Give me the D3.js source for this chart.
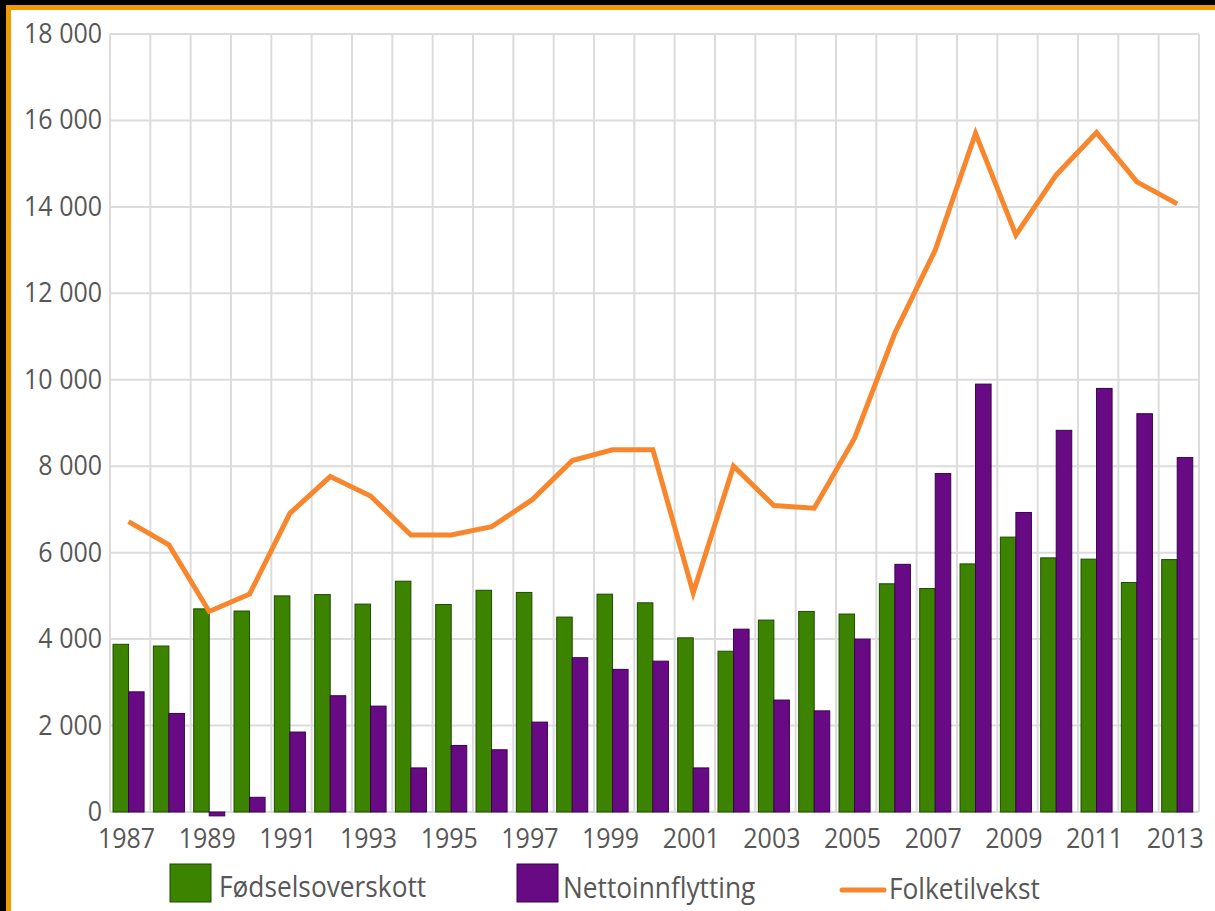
<!DOCTYPE html>
<html><head><meta charset="utf-8">
<script src="https://cdn.jsdelivr.net/npm/d3@7"></script>
<style>html,body{margin:0;padding:0;background:#000;}svg{display:block;}</style>
</head><body>
<svg id="c" width="1215" height="911"></svg>
<script>
const years = [1987,1988,1989,1990,1991,1992,1993,1994,1995,1996,1997,1998,1999,2000,2001,2002,2003,2004,2005,2006,2007,2008,2009,2010,2011,2012,2013];
const fodselsoverskott = [3880,3840,4700,4650,5000,5030,4810,5340,4800,5130,5080,4510,5040,4840,4030,3720,4440,4640,4580,5280,5170,5740,6360,5880,5850,5310,5840];
const nettoinnflytting = [2780,2280,-90,340,1850,2690,2450,1020,1540,1440,2080,3570,3300,3490,1020,4230,2590,2340,4000,5730,7830,9900,6930,8830,9800,9215,8200];
const folketilvekst = [6720,6180,4640,5040,6910,7760,7310,6410,6410,6600,7220,8130,8380,8380,5070,8000,7090,7030,8650,11080,13000,15700,13350,14740,15720,14580,14070];
const yTicks = [0,2000,4000,6000,8000,10000,12000,14000,16000,18000];
const xTickYears = [1987,1989,1991,1993,1995,1997,1999,2001,2003,2005,2007,2009,2011,2013];
const seriesNames = ["Fødselsoverskott","Nettoinnflytting","Folketilvekst"];
const colors = {green:"#3c8300", purple:"#690a85", orange:"#f7862c"};

(function(){
const svg = d3.select("#c");
const W = 1215, H = 911;
svg.append("rect").attr("width",W).attr("height",H).attr("fill","#000");
svg.append("rect").attr("x",6).attr("y",5).attr("width",W).attr("height",H).attr("fill","#f09a00");
svg.append("rect").attr("x",11).attr("y",10).attr("width",W).attr("height",H).attr("fill","#fff");

const pL=110, pR=1199, pT=34, pB=812;
const x = d3.scaleBand().domain(years).range([pL,pR]).padding(0);
const y = d3.scaleLinear().domain([0,18000]).range([pB,pT]);
const bw = x.bandwidth();
const off = bw*0.075, barW = bw*0.385;
const font = "'Open Sans', sans-serif";
const txt = "#575757";
const SY = 1.1;

function stxt(sel, size){
  return sel.attr("font-family",font).attr("font-size",size).attr("fill",txt);
}

const g = svg.append("g");
g.selectAll(".hg").data(yTicks).join("line")
  .attr("x1",pL).attr("x2",pR).attr("y1",d=>y(d)).attr("y2",d=>y(d))
  .attr("stroke","#dcdcdc").attr("stroke-width",2);
const bounds = years.map(d=>x(d)).concat([pR]);
g.selectAll(".vg").data(bounds).join("line")
  .attr("x1",d=>d).attr("x2",d=>d).attr("y1",pT).attr("y2",pB)
  .attr("stroke","#dcdcdc").attr("stroke-width",2);

// y labels
const fmt = d=>d3.format(",")(d).replace(/,/g," ");
stxt(svg.append("g").selectAll("text").data(yTicks).join("text"),25)
  .attr("text-anchor","end")
  .attr("transform",d=>`translate(${pL-8},${y(d)+9}) scale(1,${SY})`)
  .text(fmt);

// bars
svg.append("g").selectAll("rect").data(years).join("rect")
  .attr("x",d=>x(d)+off).attr("width",barW)
  .attr("y",(d,i)=>y(Math.max(0,fodselsoverskott[i])))
  .attr("height",(d,i)=>Math.abs(y(fodselsoverskott[i])-y(0)))
  .attr("fill",colors.green).attr("stroke","#1f4a00").attr("stroke-width",1);
svg.append("g").selectAll("rect").data(years).join("rect")
  .attr("x",d=>x(d)+off+barW).attr("width",barW)
  .attr("y",(d,i)=>y(Math.max(0,nettoinnflytting[i])))
  .attr("height",(d,i)=>Math.abs(y(nettoinnflytting[i])-y(0)))
  .attr("fill",colors.purple).attr("stroke","#3a0050").attr("stroke-width",1);

// line
const line = d3.line().x((d,i)=>x(years[i])+off+barW).y(d=>y(d));
svg.append("path").datum(folketilvekst).attr("d",line)
  .attr("fill","none").attr("stroke",colors.orange).attr("stroke-width",5).attr("stroke-linejoin","miter");

// x labels
stxt(svg.append("g").selectAll("text").data(xTickYears).join("text"),25)
  .attr("text-anchor","middle")
  .attr("transform",d=>`translate(${x(d)+off+barW-2},848) scale(1,${SY})`)
  .text(d=>d);

// legend
const leg = svg.append("g");
leg.append("rect").attr("x",170).attr("y",864).attr("width",41).attr("height",38)
  .attr("fill",colors.green).attr("stroke","#1f4a00").attr("stroke-width",1);
stxt(leg.append("text"),26.3).attr("transform",`translate(219,897) scale(1,${SY})`).text(seriesNames[0]);
leg.append("rect").attr("x",517).attr("y",864).attr("width",41).attr("height",38)
  .attr("fill",colors.purple).attr("stroke","#3a0050").attr("stroke-width",1);
stxt(leg.append("text"),26.3).attr("transform",`translate(563,898) scale(1,${SY})`).text(seriesNames[1]);
leg.append("line").attr("x1",842).attr("x2",884).attr("y1",890).attr("y2",890)
  .attr("stroke",colors.orange).attr("stroke-width",5).attr("stroke-linecap","round");
stxt(leg.append("text"),26.3).attr("transform",`translate(889,899) scale(1,${SY})`).text(seriesNames[2]);
})();
</script>
</body></html>
